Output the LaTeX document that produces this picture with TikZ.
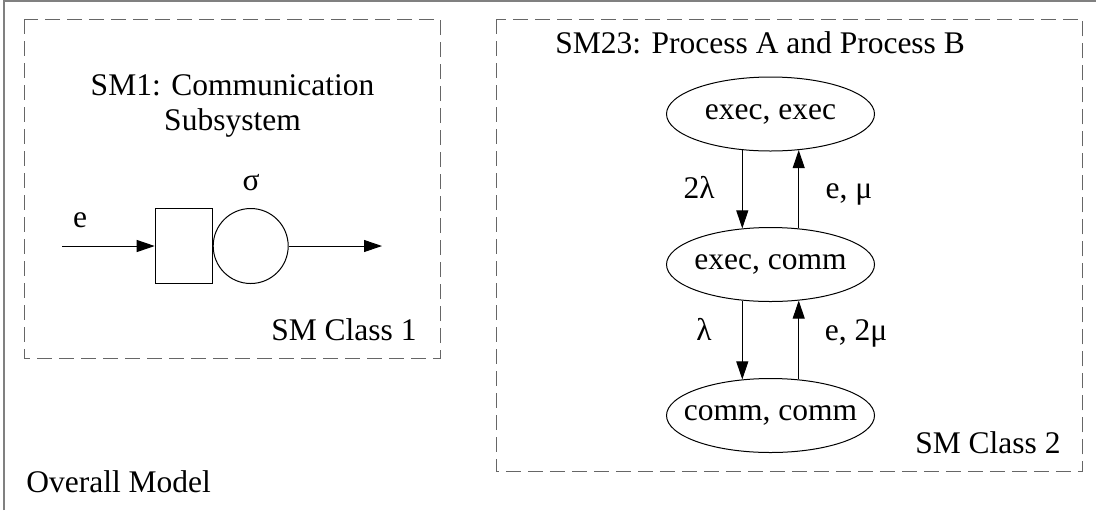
\documentclass[tikz,border=0pt]{standalone}
\usepackage{fontspec}
\setmainfont{Liberation Serif}
\usetikzlibrary{arrows.meta,positioning,shapes.geometric}
\tikzset{
  outerframe/.style={draw=black!50, line width=1pt},
  smframe/.style={draw=black!60, line width=0.5pt, dash pattern=on 7.5pt off 3.5pt},
  statenode/.style={draw, ellipse, line width=0.5pt, minimum width=104pt, minimum height=37pt, inner xsep=-7pt, inner ysep=0pt},
  queuebox/.style={draw, line width=0.5pt, minimum width=28.5pt, minimum height=37.5pt, inner sep=0pt},
  servernode/.style={draw, circle, line width=0.5pt, minimum size=37.5pt, inner sep=0pt},
  flow/.style={-{Triangle[length=9pt,width=6pt]}, line width=0.5pt},
  lbl/.style={anchor=base, inner sep=0pt},
}

\begin{document}
\begin{tikzpicture}[x=0.5pt, y=-0.5pt, font=\fontsize{15.75pt}{17.5pt}\selectfont]
  \useasboundingbox (0,0) rectangle (1096,510);
  % frames
  \draw[outerframe] (4,510) |- (1096,1);
  \draw[smframe] (24,19) rectangle (440,358);
  \draw[smframe] (496.5,19) rectangle (1082.5,471.7);
  \node[lbl, anchor=base west] (overall) at (26,492) {Overall Model};

  % SM class 1: queue
  \node[lbl, align=center] (sm1) at (232.5,130) {SM1: Communication\\Subsystem};
  \node[servernode] (server) at (250.7,246) {};
  \node[queuebox, left=0pt of server] (queue) {};
  \coordinate (qin) at (62,246);
  \coordinate (qout) at (382,246);
  \draw[flow] (qin) -- (queue.west);
  \draw[flow] (server.east) -- (qout);
  \node[lbl] (evin) at (80,227) {e};
  \node[lbl] (rate) at (251,190) {σ};
  \node[lbl, anchor=base east] (cls1) at (417,340) {SM Class 1};

  % SM class 2: two processes
  \node[lbl, anchor=base west] (sm23) at (555,53) {SM23: Process A and Process B};
  \node[statenode] (st1) at (770.5,114) {exec, exec};
  \node[statenode] (st2) at (770.5,264.5) {exec, comm};
  \node[statenode] (st3) at (770.5,415.5) {comm, comm};
  \draw[flow] (st1.-128) -- (st2.128);
  \draw[flow] (st2.52) -- (st1.-52);
  \draw[flow] (st2.-128) -- (st3.128);
  \draw[flow] (st3.52) -- (st2.-52);
  \node[lbl] (l12) at (699,198) {2λ};
  \node[lbl] (l21) at (849,198) {e, μ};
  \node[lbl] (l23) at (704,340) {λ};
  \node[lbl] (l32) at (856,340) {e, 2μ};
  \node[lbl, anchor=base east] (cls2) at (1061,453) {SM Class 2};
\end{tikzpicture}
\end{document}
